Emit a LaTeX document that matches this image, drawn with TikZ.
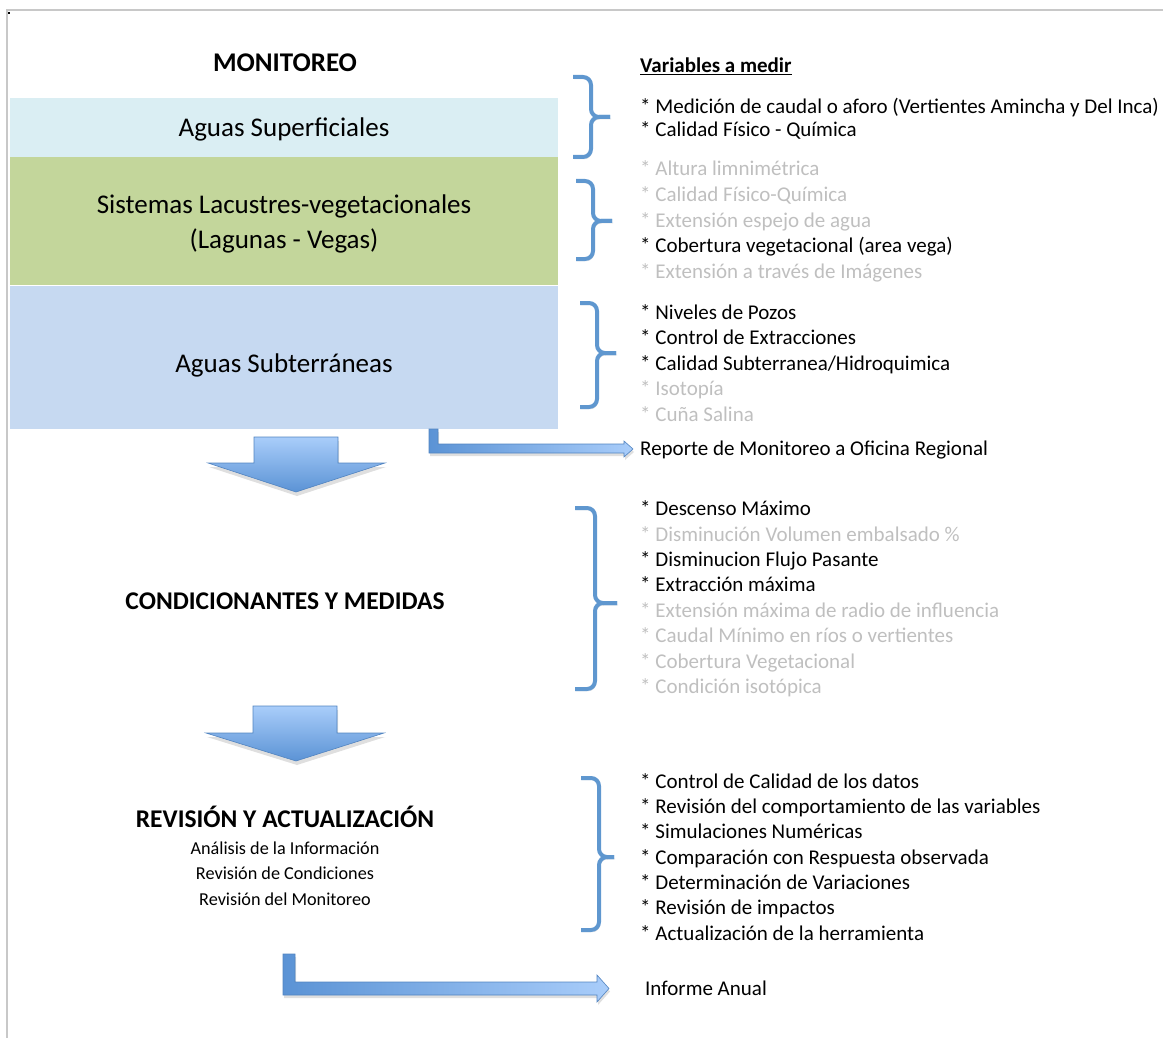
\documentclass[tikz,border=0pt]{standalone}
\usepackage{fontspec}
\setmainfont{Carlito}
\usepackage{xcolor}
\usetikzlibrary{positioning, calc, shadows}

\definecolor{supcol}{HTML}{DAEEF3}
\definecolor{lagcol}{HTML}{C3D69B}
\definecolor{subcol}{HTML}{C6D9F1}
\definecolor{bracecol}{HTML}{5F97CF}
\definecolor{arrowlight}{HTML}{A9CDFA}
\definecolor{arrowdark}{HTML}{5B93D5}
\definecolor{framecol}{HTML}{C8C8C8}
\definecolor{offcol}{HTML}{BFBFBF}

\tikzset{
    x=1pt, y=-1pt,
    frameline/.style={draw=framecol, line width=2pt},
    area/.style={minimum width=548pt, inner sep=0pt, align=center, text depth=0pt,
        font=\fontsize{27}{33}\selectfont},
    heading/.style={anchor=base, inner sep=0pt, font=\fontsize{25.5}{31}\selectfont\bfseries},
    item/.style={anchor=base west, inner sep=0pt, font=\fontsize{21}{25}\selectfont},
    offitem/.style={item, text=offcol},
    bracket/.style={draw=bracecol, line width=4pt, rounded corners=8pt,
        preaction={draw=black, opacity=0.15, transform canvas={xshift=1pt, yshift=-2pt}}},
    downarrow/.style={top color=arrowlight, bottom color=arrowdark, draw=arrowdark!90!black, line width=0.6pt,
        drop shadow={opacity=0.25, shadow xshift=1pt, shadow yshift=-4pt}},
    sidearrow/.style={left color=arrowdark, right color=arrowlight, draw=arrowdark!90!black, line width=0.6pt,
        drop shadow={opacity=0.25, shadow xshift=1pt, shadow yshift=-3pt}}
}

% right-hand curly bracket: hook x, vertical x, tip x, top y, middle y, bottom y
\newcommand{\rbracket}[6]{%
    \draw[bracket] (#1,#4) -- (#2,#4) -- (#2,#5) -- (#3,#5);
    \draw[bracket] (#1,#6) -- (#2,#6) -- (#2,#5) -- (#3,#5);
}

\begin{document}
\begin{tikzpicture}

    \useasboundingbox (0,0) rectangle (1163,1038);

    % --- Page Frame ---
    \draw[frameline] (6,10) -- (1163,10);
    \draw[frameline] (7,10) -- (7,1038);
    \fill (8,12) rectangle (10,14);

    % --- Monitoreo Block ---
    \node[heading, font=\fontsize{27}{33}\selectfont\bfseries] (monit) at (285,72) {MONITOREO};
    \node[area, fill=supcol, minimum height=59pt] (sup) at (284,127.5) {Aguas Superficiales};
    \node[area, fill=lagcol, minimum height=128pt, below=0pt of sup]
        (lag) {Sistemas Lacustres-vegetacionales\\[2pt](Lagunas - Vegas)};
    \node[area, fill=subcol, minimum height=143pt, text height=31pt, below=0pt of lag] (subt) {Aguas Subterráneas};

    % --- Variables a Medir ---
    \node[item, font=\fontsize{21}{25}\selectfont\bfseries] (varhead) at (640,73) {\underline{Variables a medir}};
    \node[item] (v1) at (640,114) {* Medición de caudal o aforo (Vertientes Amincha y Del Inca)};
    \node[item] (v2) at (640,137) {* Calidad Físico - Química};
    \rbracket{573}{591}{610}{77}{117}{157}

    \node[offitem] (l1) at (640,176) {* Altura limnimétrica};
    \node[offitem] (l2) at (640,201) {* Calidad Físico-Química};
    \node[offitem] (l3) at (640,227) {* Extensión espejo de agua};
    \node[item] (l4) at (640,252) {* Cobertura vegetacional (area vega)};
    \node[offitem] (l5) at (640,278) {* Extensión a través de Imágenes};
    \rbracket{576}{593}{612}{181}{221}{259}

    \node[item] (s1) at (640,319) {* Niveles de Pozos};
    \node[item] (s2) at (640,344) {* Control de Extracciones};
    \node[item] (s3) at (640,370) {* Calidad Subterranea/Hidroquimica};
    \node[offitem] (s4) at (640,395) {* Isotopía};
    \node[offitem] (s5) at (640,421) {* Cuña Salina};
    \rbracket{580}{597}{616}{303}{353}{407}

    % --- Reporte Arrow ---
    \node[item] (reporte) at (640,455) {Reporte de Monitoreo a Oficina Regional};
    \coordinate (rep0) at (429,429);
    \draw[sidearrow] (rep0) -- ++(9,0) -- ++(0,15) -- ++(186,0) -- ++(0,-3) -- ++(9,8)
        -- ++(-9,8) -- ++(0,-4) -- ++(-195,0) -- cycle;

    % --- First Down Arrow ---
    \coordinate (down1) at (296,437);
    \draw[downarrow] (down1) ++(-42,0) -- ++(84,0) -- ++(0,26) -- ++(47,0) -- (296,492)
        -- (208,463) -- (254,463) -- cycle;

    % --- Condicionantes y Medidas ---
    \node[heading] (cond) at (285,609) {CONDICIONANTES Y MEDIDAS};
    \node[item] (c1) at (640,515) {* Descenso Máximo};
    \node[offitem] (c2) at (640,541) {* Disminución Volumen embalsado \%};
    \node[item] (c3) at (640,566) {* Disminucion Flujo Pasante};
    \node[item] (c4) at (640,591) {* Extracción máxima};
    \node[offitem] (c5) at (640,617) {* Extensión máxima de radio de influencia};
    \node[offitem] (c6) at (640,642) {* Caudal Mínimo en ríos o vertientes};
    \node[offitem] (c7) at (640,668) {* Cobertura Vegetacional};
    \node[offitem] (c8) at (640,693) {* Condición isotópica};
    \rbracket{575}{595}{617}{508}{603}{689}

    % --- Second Down Arrow ---
    \coordinate (down2) at (296,706);
    \draw[downarrow] (down2) ++(-43,0) -- ++(84,0) -- ++(0,27) -- ++(47,0) -- (296,761)
        -- (206,733) -- (253,733) -- cycle;

    % --- Revision y Actualizacion ---
    \node[heading] (rev) at (285,827) {REVISIÓN Y ACTUALIZACIÓN};
    \node[anchor=north, inner sep=0pt, align=center, font=\fontsize{18.2}{25.5}\selectfont,
        below=14pt of rev] (revsub) {Análisis de la Información\\Revisión de Condiciones\\Revisión del Monitoreo};
    \node[item] (r1) at (640,788) {* Control de Calidad de los datos};
    \node[item] (r2) at (640,813) {* Revisión del comportamiento de las variables};
    \node[item] (r3) at (640,838) {* Simulaciones Numéricas};
    \node[item] (r4) at (640,864) {* Comparación con Respuesta observada};
    \node[item] (r5) at (640,889) {* Determinación de Variaciones};
    \node[item] (r6) at (640,914) {* Revisión de impactos};
    \node[item] (r7) at (640,940) {* Actualización de la herramienta};
    \rbracket{581}{599}{614}{778}{857}{930}

    % --- Informe Arrow ---
    \node[item] (informe) at (645,995) {Informe Anual};
    \coordinate (inf0) at (283,954);
    \draw[sidearrow] (inf0) -- ++(12,0) -- ++(0,28) -- ++(302,0) -- ++(0,-7) -- ++(12,13.5)
        -- ++(-12,13.5) -- ++(0,-7) -- ++(-314,0) -- cycle;

\end{tikzpicture}
\end{document}
